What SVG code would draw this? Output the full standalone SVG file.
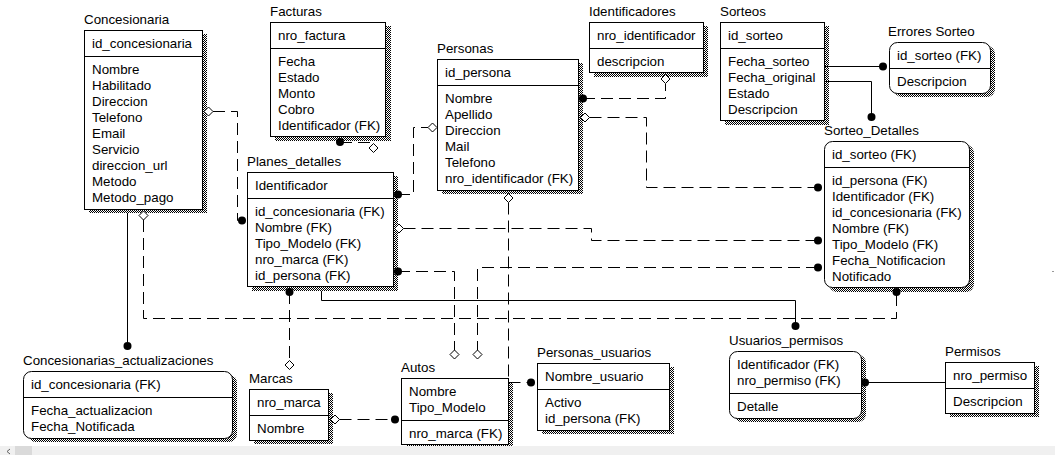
<svg xmlns="http://www.w3.org/2000/svg" xmlns:xlink="http://www.w3.org/1999/xlink" width="1055" height="455" viewBox="0 0 1055 455">
<style>
.t{font-family:"Liberation Sans",Arial,sans-serif;font-size:13.33px;fill:#000}
.box{fill:#fff;stroke:#000;stroke-width:1}
.sh{fill:url(#dither);stroke:none}
.div{stroke:#000;stroke-width:1}
.rel{fill:none;stroke:#000;stroke-width:1}
.dash{stroke-dasharray:12 6}
.dot{fill:#000}
.dia{fill:#fff;stroke:#000;stroke-width:1}
</style>
<defs>
<pattern id="dither" width="2" height="2" patternUnits="userSpaceOnUse">
<rect width="2" height="2" fill="#fff"/>
<rect width="1" height="1" fill="#000"/>
<rect x="1" y="1" width="1" height="1" fill="#000"/>
</pattern>
<circle id="dot" r="4"/>
<polygon id="dia" points="-4.5,0 0,-4.5 4.5,0 0,4.5"/>
</defs>
<rect width="1055" height="455" fill="#fff"/>

<g id="concesionaria">
<text class="t" x="84" y="24">Concesionaria</text>
<rect class="sh" x="89" y="34" width="118" height="179"/>
<rect class="box" x="84.5" y="30.5" width="118" height="179"/>
<line class="div" x1="84.5" y1="56.5" x2="202.5" y2="56.5"/>
<text class="t" x="92" y="48">id_concesionaria</text>
<text class="t"><tspan x="92" y="74">Nombre</tspan><tspan x="92" dy="16">Habilitado</tspan><tspan x="92" dy="16">Direccion</tspan><tspan x="92" dy="16">Telefono</tspan><tspan x="92" dy="16">Email</tspan><tspan x="92" dy="16">Servicio</tspan><tspan x="92" dy="16">direccion_url</tspan><tspan x="92" dy="16">Metodo</tspan><tspan x="92" dy="16">Metodo_pago</tspan></text>
</g>

<g id="facturas">
<text class="t" x="270" y="16">Facturas</text>
<rect class="sh" x="275" y="26" width="116" height="115"/>
<rect class="box" x="270.5" y="22.5" width="115" height="114"/>
<line class="div" x1="270.5" y1="48.5" x2="385.5" y2="48.5"/>
<text class="t" x="278" y="40">nro_factura</text>
<text class="t"><tspan x="278" y="66">Fecha</tspan><tspan x="278" dy="16">Estado</tspan><tspan x="278" dy="16">Monto</tspan><tspan x="278" dy="16">Cobro</tspan><tspan x="278" dy="16">Identificador (FK)</tspan></text>
</g>

<g id="identificadores">
<text class="t" x="589" y="16">Identificadores</text>
<rect class="sh" x="594" y="26" width="114" height="51"/>
<rect class="box" x="589.5" y="22.5" width="114" height="50"/>
<line class="div" x1="589.5" y1="48.5" x2="703.5" y2="48.5"/>
<text class="t" x="597" y="40">nro_identificador</text>
<text class="t" x="597" y="66">descripcion</text>
</g>

<g id="sorteos">
<text class="t" x="720" y="16">Sorteos</text>
<rect class="sh" x="725" y="26" width="104" height="99"/>
<rect class="box" x="720.5" y="22.5" width="104" height="98"/>
<line class="div" x1="720.5" y1="48.5" x2="824.5" y2="48.5"/>
<text class="t" x="728" y="40">id_sorteo</text>
<text class="t"><tspan x="728" y="66">Fecha_sorteo</tspan><tspan x="728" dy="16">Fecha_original</tspan><tspan x="728" dy="16">Estado</tspan><tspan x="728" dy="16">Descripcion</tspan></text>
</g>

<g id="personas">
<text class="t" x="437" y="53">Personas</text>
<rect class="sh" x="442" y="63" width="141" height="131"/>
<rect class="box" x="437.5" y="59.5" width="141" height="131"/>
<line class="div" x1="437.5" y1="85.5" x2="578.5" y2="85.5"/>
<text class="t" x="445" y="77">id_persona</text>
<text class="t"><tspan x="445" y="103">Nombre</tspan><tspan x="445" dy="16">Apellido</tspan><tspan x="445" dy="16">Direccion</tspan><tspan x="445" dy="16">Mail</tspan><tspan x="445" dy="16">Telefono</tspan><tspan x="445" dy="16">nro_identificador (FK)</tspan></text>
</g>

<g id="errores-sorteo">
<text class="t" x="888" y="36">Errores Sorteo</text>
<rect class="sh" x="894" y="46" width="101" height="51" rx="8"/>
<rect class="box" x="889.5" y="42.5" width="101" height="51" rx="8"/>
<line class="div" x1="889.5" y1="68.5" x2="990.5" y2="68.5"/>
<text class="t" x="897" y="60">id_sorteo (FK)</text>
<text class="t" x="897" y="86">Descripcion</text>
</g>

<g id="sorteo-detalles">
<text class="t" x="824" y="135">Sorteo_Detalles</text>
<rect class="sh" x="829" y="145" width="145" height="147" rx="8"/>
<rect class="box" x="824.5" y="141.5" width="145" height="146" rx="8"/>
<line class="div" x1="824.5" y1="167.5" x2="969.5" y2="167.5"/>
<text class="t" x="832" y="159">id_sorteo (FK)</text>
<text class="t"><tspan x="832" y="185">id_persona (FK)</tspan><tspan x="832" dy="16">Identificador (FK)</tspan><tspan x="832" dy="16">id_concesionaria (FK)</tspan><tspan x="832" dy="16">Nombre (FK)</tspan><tspan x="832" dy="16">Tipo_Modelo (FK)</tspan><tspan x="832" dy="16">Fecha_Notificacion</tspan><tspan x="832" dy="16">Notificado</tspan></text>
</g>

<g id="planes-detalles">
<text class="t" x="247" y="166">Planes_detalles</text>
<rect class="sh" x="252" y="176" width="146" height="115"/>
<rect class="box" x="247.5" y="172.5" width="146" height="114"/>
<line class="div" x1="247.5" y1="198.5" x2="393.5" y2="198.5"/>
<text class="t" x="255" y="190">Identificador</text>
<text class="t"><tspan x="255" y="216">id_concesionaria (FK)</tspan><tspan x="255" dy="16">Nombre (FK)</tspan><tspan x="255" dy="16">Tipo_Modelo (FK)</tspan><tspan x="255" dy="16">nro_marca (FK)</tspan><tspan x="255" dy="16">id_persona (FK)</tspan></text>
</g>

<g id="concesionarias-actualizaciones">
<text class="t" x="23" y="365">Concesionarias_actualizaciones</text>
<rect class="sh" x="28" y="375" width="209" height="67" rx="8"/>
<rect class="box" x="23.5" y="371.5" width="209" height="67" rx="8"/>
<line class="div" x1="23.5" y1="397.5" x2="232.5" y2="397.5"/>
<text class="t" x="31" y="389">id_concesionaria (FK)</text>
<text class="t"><tspan x="31" y="415">Fecha_actualizacion</tspan><tspan x="31" dy="16">Fecha_Notificada</tspan></text>
</g>

<g id="marcas">
<text class="t" x="249" y="383">Marcas</text>
<rect class="sh" x="254" y="393" width="79" height="51"/>
<rect class="box" x="249.5" y="389.5" width="79" height="51"/>
<line class="div" x1="249.5" y1="415.5" x2="328.5" y2="415.5"/>
<text class="t" x="257" y="407">nro_marca</text>
<text class="t" x="257" y="433">Nombre</text>
</g>

<g id="autos">
<text class="t" x="401" y="372">Autos</text>
<rect class="sh" x="406" y="382" width="107" height="67"/>
<rect class="box" x="401.5" y="378.5" width="107" height="66"/>
<line class="div" x1="401.5" y1="420.5" x2="508.5" y2="420.5"/>
<text class="t"><tspan x="409" y="396">Nombre</tspan><tspan x="409" dy="16">Tipo_Modelo</tspan></text>
<text class="t" x="409" y="438">nro_marca (FK)</text>
</g>

<g id="personas-usuarios">
<text class="t" x="537" y="357">Personas_usuarios</text>
<rect class="sh" x="542" y="367" width="132" height="67"/>
<rect class="box" x="537.5" y="363.5" width="132" height="67"/>
<line class="div" x1="537.5" y1="389.5" x2="669.5" y2="389.5"/>
<text class="t" x="545" y="381">Nombre_usuario</text>
<text class="t"><tspan x="545" y="407">Activo</tspan><tspan x="545" dy="16">id_persona (FK)</tspan></text>
</g>

<g id="usuarios-permisos">
<text class="t" x="729" y="345">Usuarios_permisos</text>
<rect class="sh" x="734" y="355" width="132" height="67" rx="8"/>
<rect class="box" x="729.5" y="351.5" width="132" height="67" rx="8"/>
<line class="div" x1="729.5" y1="393.5" x2="861.5" y2="393.5"/>
<text class="t"><tspan x="737" y="369">Identificador (FK)</tspan><tspan x="737" dy="16">nro_permiso (FK)</tspan></text>
<text class="t" x="737" y="411">Detalle</text>
</g>

<g id="permisos">
<text class="t" x="945" y="356">Permisos</text>
<rect class="sh" x="950" y="366" width="89" height="51"/>
<rect class="box" x="945.5" y="362.5" width="89" height="51"/>
<line class="div" x1="945.5" y1="388.5" x2="1034.5" y2="388.5"/>
<text class="t" x="953" y="380">nro_permiso</text>
<text class="t" x="953" y="406">Descripcion</text>
</g>

<g id="connectors">
<path class="rel dash" d="M213,111.5 H237.5 V220.5 H242"/>
<use href="#dia" class="dia" x="208.5" y="111.5"/>
<use href="#dot" class="dot" x="242" y="220.5"/>

<path class="rel" d="M127.5,213 V342"/>
<use href="#dot" class="dot" x="127.5" y="346"/>

<path class="rel dash" d="M143.5,220 V318.5 H896.5 V292"/>
<use href="#dia" class="dia" x="143.5" y="215.5"/>
<use href="#dot" class="dot" x="896.5" y="292"/>

<path class="rel dash" d="M340,142.5 H373.5 V144"/>
<use href="#dot" class="dot" x="340" y="142"/>
<use href="#dia" class="dia" x="373.5" y="148"/>

<path class="rel dash" d="M398,194.5 H413.5 V127.5 H428"/>
<use href="#dot" class="dot" x="398" y="194.5"/>
<use href="#dia" class="dia" x="432.5" y="127.5"/>

<path class="rel dash" d="M583,98.5 H665.5 V84"/>
<use href="#dot" class="dot" x="583" y="98.5"/>
<use href="#dia" class="dia" x="665.5" y="79"/>

<path class="rel dash" d="M589.5,117.5 H646.5 V187.5 H818"/>
<use href="#dia" class="dia" x="585" y="117.5"/>
<use href="#dot" class="dot" x="818" y="187.5"/>

<path class="rel dash" d="M403.5,228.5 H591.5 V240.5 H818"/>
<use href="#dia" class="dia" x="399" y="228.5"/>
<use href="#dot" class="dot" x="818" y="240.5"/>

<path class="rel dash" d="M818,267.5 H477.5 V350"/>
<use href="#dot" class="dot" x="818" y="267.5"/>
<use href="#dia" class="dia" x="477.5" y="354.5"/>

<path class="rel dash" d="M398,271.5 H454.5 V350"/>
<use href="#dot" class="dot" x="398" y="271.5"/>
<use href="#dia" class="dia" x="454.5" y="354.5"/>

<path class="rel dash" d="M508.5,202.5 V382.5 H531"/>
<use href="#dia" class="dia" x="508.5" y="198"/>
<use href="#dot" class="dot" x="531" y="382.5"/>

<path class="rel dash" d="M289.5,292 V360.5"/>
<use href="#dot" class="dot" x="289.5" y="292"/>
<use href="#dia" class="dia" x="289.5" y="365"/>

<path class="rel dash" d="M339.5,419.5 H395"/>
<use href="#dia" class="dia" x="335" y="419.5"/>
<use href="#dot" class="dot" x="395" y="419.5"/>

<path class="rel" d="M825,66.5 H883"/>
<use href="#dot" class="dot" x="883" y="66.5"/>

<path class="rel" d="M825,81.5 H871.5 V117"/>
<use href="#dot" class="dot" x="871.5" y="117"/>

<path class="rel" d="M321.5,291 V300.5 H795.5 V326"/>
<use href="#dot" class="dot" x="795.5" y="326"/>

<path class="rel" d="M865,382.5 H945"/>
<use href="#dot" class="dot" x="865" y="382.5"/>
</g>

<rect x="1052" y="271" width="2" height="1" fill="#999"/>
<rect x="0" y="446" width="1055" height="9" fill="#f0f0f0"/>
<rect x="15" y="446" width="17" height="9" fill="#dadada"/>
<polyline points="10,449 7,451.5 10,454" fill="none" stroke="#606060" stroke-width="1"/>
</svg>
